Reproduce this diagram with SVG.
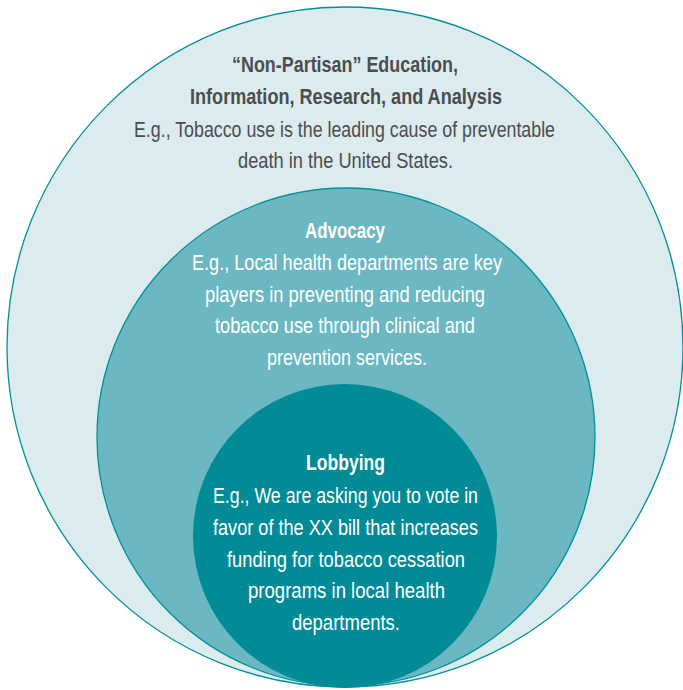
<svg xmlns="http://www.w3.org/2000/svg" width="683" height="690" viewBox="0 0 683 690">
<style>
text{font-family:"Liberation Sans",Arial,sans-serif;font-size:22px;text-anchor:middle}
.b{font-weight:bold}
.g{fill:#4d4d4f}
.w{fill:#ffffff}
</style>
<rect width="683" height="690" fill="#ffffff"/>
<g id="outer">
<ellipse cx="345" cy="347" rx="338" ry="340" fill="#dcebee" stroke="#00909a" stroke-width="1.3"/>
<text class="b g" x="345" y="72" textLength="226" lengthAdjust="spacingAndGlyphs">“Non-Partisan” Education,</text>
<text class="b g" x="346" y="103.5" textLength="312" lengthAdjust="spacingAndGlyphs">Information, Research, and Analysis</text>
<text class="g" x="344.5" y="136.5" textLength="421" lengthAdjust="spacingAndGlyphs">E.g., Tobacco use is the leading cause of preventable</text>
<text class="g" x="345.5" y="168" textLength="215" lengthAdjust="spacingAndGlyphs">death in the United States.</text>
</g>
<g id="middle">
<circle cx="346" cy="437" r="249" fill="#6bb8c2" stroke="#00909a" stroke-width="1.3"/>
<text class="b w" x="345" y="238" textLength="80" lengthAdjust="spacingAndGlyphs">Advocacy</text>
<text class="w" x="347" y="270" textLength="310" lengthAdjust="spacingAndGlyphs">E.g., Local health departments are key</text>
<text class="w" x="345" y="301.5" textLength="280" lengthAdjust="spacingAndGlyphs">players in preventing and reducing</text>
<text class="w" x="345" y="333" textLength="260" lengthAdjust="spacingAndGlyphs">tobacco use through clinical and</text>
<text class="w" x="347" y="365" textLength="160" lengthAdjust="spacingAndGlyphs">prevention services.</text>
</g>
<g id="inner">
<circle cx="345" cy="536" r="152" fill="#008b96"/>
<text class="b w" x="345.5" y="470" textLength="79" lengthAdjust="spacingAndGlyphs">Lobbying</text>
<text class="w" x="345.5" y="503" textLength="265" lengthAdjust="spacingAndGlyphs">E.g., We are asking you to vote in</text>
<text class="w" x="345.5" y="535" textLength="265" lengthAdjust="spacingAndGlyphs">favor of the XX bill that increases</text>
<text class="w" x="346" y="567" textLength="238" lengthAdjust="spacingAndGlyphs">funding for tobacco cessation</text>
<text class="w" x="346.5" y="598" textLength="197" lengthAdjust="spacingAndGlyphs">programs in local health</text>
<text class="w" x="346" y="630" textLength="108" lengthAdjust="spacingAndGlyphs">departments.</text>
</g>
<g id="connectors"/>
</svg>
